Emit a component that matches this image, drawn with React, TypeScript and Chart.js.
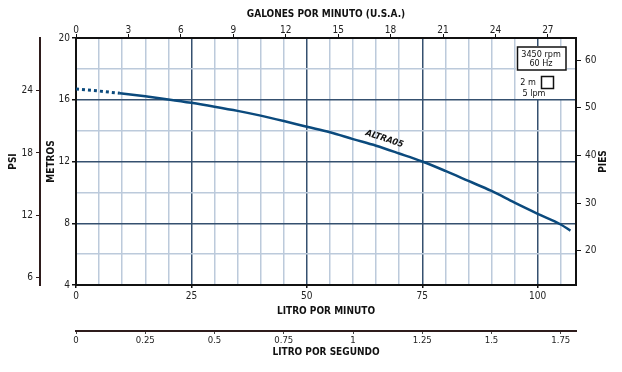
import React, { useEffect, useRef } from 'react';
import { Chart, registerables } from 'chart.js';

Chart.register(...registerables);

// ---------- data ----------
const lpmDashed = [0, 4.5, 9.5];
const metrosDashed = [16.7, 16.58, 16.42];

const lpmSolid = [9.5, 15, 20, 25, 30, 35, 40, 45, 50, 55, 60, 65, 70, 75, 80, 85, 90, 95, 100, 105, 107.1];
const metrosSolid = [16.42, 16.22, 16.02, 15.8, 15.55, 15.28, 14.97, 14.62, 14.25, 13.89, 13.45, 13.02, 12.52, 12.0, 11.39, 10.74, 10.09, 9.33, 8.61, 7.92, 7.52];

const lpmTicks = [0, 5, 10, 15, 20, 25, 30, 35, 40, 45, 50, 55, 60, 65, 70, 75, 80, 85, 90, 95, 100, 105];
const lpmLabelled = [0, 25, 50, 75, 100];
const metrosTicks = [4, 6, 8, 10, 12, 14, 16, 18, 20];
const metrosLabelled = [4, 8, 12, 16, 20];
const gpmTicks = [0, 3, 6, 9, 12, 15, 18, 21, 24, 27];
const psiTicks = [6, 12, 18, 24];
const piesTicks = [20, 30, 40, 50, 60];
const lpsTicks = [0, 0.25, 0.5, 0.75, 1, 1.25, 1.5, 1.75];

const lpmRange = [0, 108.3];
const metrosRange = [4, 20];
const gpmRange = [0, 28.61];
const psiRange = [5.27, 29.09];
const piesRange = [12.85, 64.63];
const lpsRange = [0, 1.805];

const curveName = 'ALTRA05';
const curveLabelAt = [66.8, 13.46];
const legendLines = ['3450 rpm', '60 Hz'];
const legendKey = ['2 m', '5 lpm'];

// ---------- styles ----------
const FONT = "'Liberation Sans Narrow', 'Arial Narrow', 'DejaVu Sans Condensed', sans-serif";
const MAJOR = '#35506f';
const MINOR = '#bccadb';
const CURVE = '#0b4a7d';
const BROWN = '#2e1c1c';

const tickFont = { family: FONT, size: 10 };
const titleFont = { family: FONT, size: 10, weight: 'bold' as const };

const setTicks = (arr: number[]) => (s: any) => {
  s.ticks = arr.map((v) => ({ value: v }));
};

const extras = {
  id: 'extras',
  beforeDatasetsDraw(chart: any) {
    const { ctx, chartArea } = chart;
    const r = chartArea.right;
    const t = chartArea.top;
    ctx.save();
    ctx.fillStyle = '#ffffff';
    ctx.fillRect(r - 60, t + 8, 51, 53);
    ctx.strokeStyle = '#111';
    ctx.lineWidth = 1.5;
    ctx.strokeRect(r - 58.5, t + 9, 48.5, 23);
    ctx.fillStyle = '#111';
    ctx.font = `9px ${FONT}`;
    ctx.textAlign = 'center';
    ctx.textBaseline = 'middle';
    ctx.fillText(legendLines[0], r - 35, t + 16.5);
    ctx.fillText(legendLines[1], r - 35, t + 25.5);
    ctx.fillText(legendKey[0], r - 48, t + 45);
    ctx.strokeRect(r - 34.5, t + 38.5, 12, 12);
    ctx.fillText(legendKey[1], r - 42, t + 56);
    ctx.restore();
  },
  afterDatasetsDraw(chart: any) {
    const { ctx } = chart;
    const xs = chart.scales.x;
    const ys = chart.scales.y;
    const px = xs.getPixelForValue(curveLabelAt[0]);
    const py = ys.getPixelForValue(curveLabelAt[1]);
    ctx.save();
    ctx.translate(px, py);
    ctx.rotate((18.5 * Math.PI) / 180);
    ctx.font = `italic bold 9px ${FONT}`;
    ctx.fillStyle = '#111';
    ctx.textAlign = 'center';
    ctx.textBaseline = 'middle';
    ctx.fillText(curveName, 0, 0);
    ctx.restore();
  },
  afterDraw(chart: any) {
    const { ctx, chartArea } = chart;
    const s = chart.scales.pies;
    ctx.save();
    ctx.translate(s.right - 19, (chartArea.top + chartArea.bottom) / 2);
    ctx.rotate(-Math.PI / 2);
    ctx.font = `bold 10px ${FONT}`;
    ctx.fillStyle = '#111';
    ctx.textAlign = 'center';
    ctx.textBaseline = 'middle';
    ctx.fillText('PIES', 0, 0);
    ctx.restore();
  },
};

export default function App() {
  const ref = useRef<HTMLCanvasElement | null>(null);

  useEffect(() => {
    document.body.style.margin = '0';
    const canvas = ref.current;
    if (!canvas) return;
    const chart = new Chart(canvas, {
      type: 'line',
      data: {
        datasets: [
          {
            data: lpmDashed.map((x, i) => ({ x, y: metrosDashed[i] })),
            borderColor: CURVE,
            borderWidth: 3,
            borderDash: [3, 3],
            pointRadius: 0,
            tension: 0,
            xAxisID: 'x',
            yAxisID: 'y',
          },
          {
            data: lpmSolid.map((x, i) => ({ x, y: metrosSolid[i] })),
            borderColor: CURVE,
            borderWidth: 2.5,
            pointRadius: 0,
            cubicInterpolationMode: 'monotone',
            xAxisID: 'x',
            yAxisID: 'y',
          },
        ],
      },
      options: {
        responsive: false,
        animation: false,
        devicePixelRatio: 1,
        events: [],
        layout: { padding: 0 },
        plugins: { legend: { display: false }, tooltip: { enabled: false }, title: { display: false } },
        scales: {
          x: {
            type: 'linear',
            position: 'bottom',
            weight: 0,
            min: lpmRange[0],
            max: lpmRange[1],
            afterBuildTicks: setTicks(lpmTicks),
            afterFit: (s: any) => { s.height = 46; },
            ticks: {
              autoSkip: false,
              maxRotation: 0,
              padding: 2,
              color: '#222',
              font: tickFont,
              callback: (v: any) => (lpmLabelled.includes(Number(v)) ? String(v) : ''),
            },
            grid: {
              color: (c: any) => (c.tick && c.tick.value % 25 === 0 ? MAJOR : MINOR),
              lineWidth: 1.5,
              drawTicks: true,
              tickLength: 3,
              tickColor: (c: any) => (c.tick && c.tick.value % 25 === 0 ? '#111' : 'rgba(0,0,0,0)'),
            },
            border: { display: true, color: '#111', width: 2 },
            title: { display: true, text: 'LITRO POR MINUTO', color: '#111', font: titleFont, padding: { top: 0, bottom: 13.5 } },
          },
          lps: {
            type: 'linear',
            position: 'bottom',
            weight: 1,
            min: lpsRange[0],
            max: lpsRange[1],
            afterBuildTicks: setTicks(lpsTicks),
            afterFit: (s: any) => { s.height = 41; },
            ticks: { autoSkip: false, maxRotation: 0, padding: 1, color: '#222', font: { family: FONT, size: 9.5 }, callback: (v: any) => String(v) },
            grid: { drawOnChartArea: false, drawTicks: true, tickLength: 3, tickColor: '#444' },
            border: { display: true, color: BROWN, width: 2 },
            title: { display: true, text: 'LITRO POR SEGUNDO', color: '#111', font: titleFont, padding: { top: 0, bottom: 13.5 } },
          },
          gpm: {
            type: 'linear',
            position: 'top',
            weight: 0,
            min: gpmRange[0],
            max: gpmRange[1],
            afterBuildTicks: setTicks(gpmTicks),
            afterFit: (s: any) => { s.height = 38; },
            ticks: { autoSkip: false, maxRotation: 0, padding: -2, color: '#222', font: tickFont },
            grid: { drawOnChartArea: false, drawTicks: true, tickLength: 4, tickColor: '#111' },
            border: { display: true, color: '#111', width: 2 },
            title: { display: true, text: 'GALONES POR MINUTO (U.S.A.)', color: '#111', font: titleFont, padding: { top: 8, bottom: 0 } },
          },
          y: {
            type: 'linear',
            position: 'left',
            weight: 0,
            min: metrosRange[0],
            max: metrosRange[1],
            afterBuildTicks: setTicks(metrosTicks),
            afterFit: (s: any) => { s.width = 36; },
            ticks: {
              autoSkip: false,
              padding: 2,
              color: '#222',
              font: tickFont,
              callback: (v: any) => (metrosLabelled.includes(Number(v)) ? String(v) : ''),
            },
            grid: {
              color: (c: any) => (c.tick && c.tick.value % 4 === 0 ? MAJOR : MINOR),
              lineWidth: 1.5,
              drawTicks: true,
              tickLength: 4,
              tickColor: (c: any) => (c.tick && c.tick.value % 4 === 0 ? '#111' : 'rgba(0,0,0,0)'),
            },
            border: { display: true, color: '#111', width: 2 },
            title: { display: true, text: 'METROS', color: '#111', font: titleFont, padding: { top: 5, bottom: 0 } },
          },
          psi: {
            type: 'linear',
            position: 'left',
            weight: 1,
            min: psiRange[0],
            max: psiRange[1],
            afterBuildTicks: setTicks(psiTicks),
            afterFit: (s: any) => { s.width = 40; },
            ticks: { autoSkip: false, padding: 3, color: '#222', font: tickFont },
            grid: { drawOnChartArea: false, drawTicks: true, tickLength: 4, tickColor: BROWN },
            border: { display: true, color: BROWN, width: 2 },
            title: { display: true, text: 'PSI', color: '#111', font: titleFont, padding: { top: 7.5, bottom: 0 } },
          },
          pies: {
            type: 'linear',
            position: 'right',
            weight: 0,
            min: piesRange[0],
            max: piesRange[1],
            afterBuildTicks: setTicks(piesTicks),
            afterFit: (s: any) => { s.width = 46; },
            ticks: { autoSkip: false, padding: 4, color: '#222', font: tickFont },
            grid: { drawOnChartArea: false, drawTicks: true, tickLength: 5, tickColor: '#111' },
            border: { display: true, color: '#111', width: 2 },
            title: { display: false },
          },
        },
      } as any,
      plugins: [extras],
    });
    return () => chart.destroy();
  }, []);

  return (
    <div style={{ width: 622, height: 372, background: '#fff' }}>
      <canvas ref={ref} width={622} height={372} style={{ display: 'block' }} />
    </div>
  );
}
